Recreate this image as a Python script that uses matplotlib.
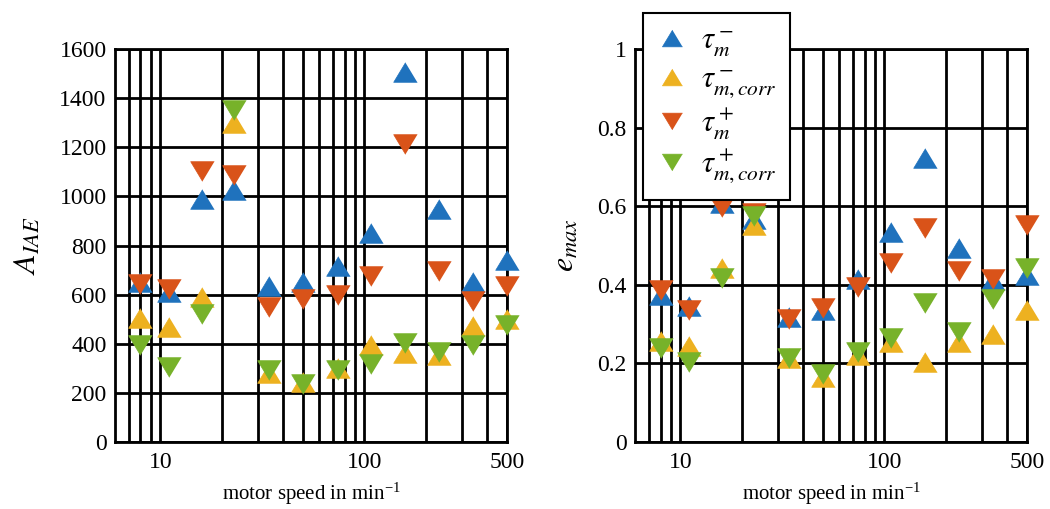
import numpy as np
import matplotlib
matplotlib.use('Agg')
from matplotlib import pyplot as plt
from matplotlib.ticker import NullFormatter

plt.rcParams['font.family'] = ['Liberation Serif', 'DejaVu Serif']
plt.rcParams['mathtext.fontset'] = 'stix'

# motor speed in min^-1
speed = [8, 11, 16, 23, 34, 50, 74, 108, 158, 232, 340, 500]

# A_IAE values
iae_minus = [650, 610, 988, 1025, 634, 651, 715, 850, 1505, 950, 651, 742]
iae_minus_corr = [503, 470, 592, 1298, 282, 243, 300, 395, 364, 355, 474, 499]
iae_plus = [645, 625, 1103, 1088, 550, 584, 599, 678, 1215, 695, 573, 634]
iae_plus_corr = [397, 305, 523, 1351, 292, 237, 295, 318, 403, 367, 397, 478]

# e_max values
emax_minus = [0.375, 0.345, 0.607, 0.568, 0.317, 0.337, 0.416, 0.535, 0.722, 0.493, 0.413, 0.424]
emax_minus_corr = [0.257, 0.245, 0.443, 0.552, 0.213, 0.165, 0.222, 0.255, 0.203, 0.255, 0.276, 0.336]
emax_plus = [0.388, 0.337, 0.597, 0.584, 0.314, 0.342, 0.395, 0.455, 0.545, 0.435, 0.415, 0.553]
emax_plus_corr = [0.238, 0.204, 0.418, 0.576, 0.213, 0.172, 0.228, 0.265, 0.355, 0.28, 0.365, 0.442]

labels = [r'$\tau_m^-$', r'$\tau_{m,corr}^-$', r'$\tau_m^+$', r'$\tau_{m,corr}^+$']
colors = ['#1f72bd', '#edb120', '#d95319', '#77b22a']

# wide, flat triangles like the original
up = [(0, 0.83), (-1, -0.83), (1, -0.83)]
down = [(0, -0.83), (-1, 0.83), (1, 0.83)]
markers = [up, up, down, down]

fig = plt.figure(figsize=(10.5, 5.09), dpi=100)
ax1 = fig.add_axes([0.1095, 0.1316, 0.3733, 0.772])
ax2 = fig.add_axes([0.6048, 0.1316, 0.3733, 0.772])

minor = [7, 8, 9, 20, 30, 40, 50, 60, 70, 80, 90, 200, 300, 400]


def draw(ax, series, ylim, yticks, yticklabels, ylabel):
    handles = []
    for vals, c, m, lab in zip(series, colors, markers, labels):
        h, = ax.plot(speed, vals, linestyle='none', marker=m, markersize=17,
                     color=c, markeredgecolor=c, markeredgewidth=0.5, label=lab,
                     zorder=3, clip_on=False)
        handles.append(h)
    ax.set_xscale('log')
    ax.set_xlim(6, 500)
    ax.set_ylim(*ylim)
    ax.set_xticks([10, 100, 500])
    ax.set_xticklabels(['10', '100', '500'])
    ax.set_xticks(minor, minor=True)
    ax.xaxis.set_minor_formatter(NullFormatter())
    ax.set_yticks(yticks)
    ax.set_yticklabels(yticklabels)
    ax.grid(True, which='both', color='black', linewidth=2)
    ax.set_axisbelow(True)
    ax.tick_params(which='both', length=0, labelsize=17)
    ax.tick_params(axis='x', pad=7)
    ax.tick_params(axis='y', pad=6)
    for s in ax.spines.values():
        s.set_linewidth(2)
    ax.set_xlabel('motor speed in min$^{\\mathregular{-1}}$', fontsize=15, labelpad=6)
    ax.set_ylabel(ylabel, fontsize=23, labelpad=12)
    return handles


draw(ax1, [iae_minus, iae_minus_corr, iae_plus, iae_plus_corr], (0, 1600),
     np.arange(0, 1601, 200), [str(v) for v in range(0, 1601, 200)], r'$A_{IAE}$')
handles = draw(ax2, [emax_minus, emax_minus_corr, emax_plus, emax_plus_corr], (0, 1),
               [0, 0.2, 0.4, 0.6, 0.8, 1], ['0', '0.2', '0.4', '0.6', '0.8', '1'], r'$e_{max}$')

leg = fig.legend(handles=handles, loc='upper left', bbox_to_anchor=(643 / 1050, 1 - 13 / 509),
                 fontsize=22, frameon=True, fancybox=False, framealpha=1,
                 borderaxespad=0, borderpad=0.45, labelspacing=0.2, handletextpad=0.45,
                 handlelength=1.0, markerscale=0.85)
leg.get_frame().set_edgecolor('black')
leg.get_frame().set_linewidth(1.5)

fig.savefig('out.png', dpi=100)
